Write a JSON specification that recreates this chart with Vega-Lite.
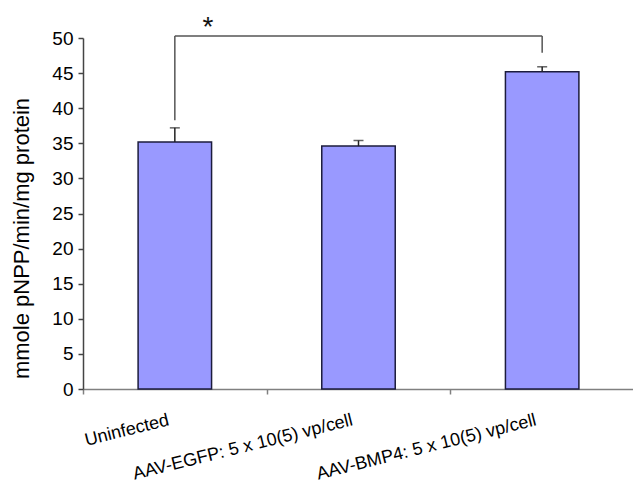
{
  "$schema": "https://vega.github.io/schema/vega-lite/v6.json",
  "autosize": {"type": "none"},
  "padding": {"left": 83, "top": 38, "right": 0, "bottom": 97},
  "width": 551,
  "height": 351,
  "background": "white",
  "config": {
    "view": {"stroke": null},
    "font": "Liberation Sans",
    "axis": {"labelFont": "Liberation Sans", "titleFont": "Liberation Sans", "labelColor": "#000", "titleColor": "#000", "grid": false},
    "axisY": {"tickCount": 20, "labelOverlap": false}
  },
  "datasets": {
    "bars": [
      {"group": "Uninfected", "value": 35.2, "upper": 37.2},
      {"group": "AAV-EGFP: 5 x 10(5) vp/cell", "value": 34.6, "upper": 35.4},
      {"group": "AAV-BMP4: 5 x 10(5) vp/cell", "value": 45.2, "upper": 45.9}
    ],
    "legs": [
      {"group": "Uninfected", "top": 50.3, "bottom": 38.3},
      {"group": "AAV-BMP4: 5 x 10(5) vp/cell", "top": 50.3, "bottom": 47.9}
    ],
    "span": [
      {"from": "Uninfected", "to": "AAV-BMP4: 5 x 10(5) vp/cell", "y": 50.3, "label": "*"}
    ]
  },
  "layer": [
    {
      "data": {"name": "bars"},
      "mark": {"type": "bar", "fill": "#9999ff", "stroke": "#1c1c3c", "strokeWidth": 1.5},
      "encoding": {
        "x": {
          "field": "group", "type": "nominal", "sort": null,
          "scale": {"paddingInner": 0.6, "paddingOuter": 0.3},
          "axis": {
            "title": null,
            "domainColor": "#808080", "domainWidth": 1.5,
            "tickColor": "#808080", "tickSize": 5, "tickWidth": 1.5,
            "tickOffset": -91.8,
            "labelOffset": 83,
            "labelAngle": -14, "labelAlign": "right", "labelBaseline": "top",
            "labelPadding": 17, "labelFontSize": 18, "labelLimit": 0,
            "labelOverlap": false, "labelBound": false
          }
        },
        "y": {
          "field": "value", "type": "quantitative",
          "scale": {"domain": [0, 50], "nice": false},
          "axis": {
            "values": [0, 5, 10, 15, 20, 25, 30, 35, 40, 45, 50],
            "tickCount": 20,
            "labelOverlap": false,
            "title": "mmole pNPP/min/mg protein",
            "titleFontSize": 22, "titleFontWeight": "normal",
            "titleX": -62, "titleY": 200, "titleAngle": -90,
            "titleAlign": "center", "titleBaseline": "middle",
            "domainColor": "#444", "domainWidth": 1.5,
            "tickColor": "#444", "tickSize": 5, "tickWidth": 1.5,
            "labelFontSize": 19, "labelPadding": 5
          }
        }
      }
    },
    {
      "data": {"name": "bars"},
      "mark": {"type": "rule", "color": "#222", "strokeWidth": 1.5},
      "encoding": {
        "x": {"field": "group", "type": "nominal", "sort": null},
        "y": {"field": "value", "type": "quantitative"},
        "y2": {"field": "upper"}
      }
    },
    {
      "data": {"name": "bars"},
      "mark": {"type": "tick", "color": "#222", "size": 10, "thickness": 1.5, "orient": "horizontal"},
      "encoding": {
        "x": {"field": "group", "type": "nominal", "sort": null},
        "y": {"field": "upper", "type": "quantitative"}
      }
    },
    {
      "data": {"name": "legs"},
      "mark": {"type": "rule", "color": "#555", "strokeWidth": 1.5},
      "encoding": {
        "x": {"field": "group", "type": "nominal", "sort": null},
        "y": {"field": "top", "type": "quantitative"},
        "y2": {"field": "bottom"}
      }
    },
    {
      "data": {"name": "span"},
      "mark": {"type": "rule", "color": "#555", "strokeWidth": 1.5},
      "encoding": {
        "x": {"field": "from", "type": "nominal", "sort": null},
        "x2": {"field": "to"},
        "y": {"field": "y", "type": "quantitative"}
      }
    },
    {
      "data": {"name": "span"},
      "mark": {"type": "text", "fontSize": 28, "dx": 33, "baseline": "alphabetic", "align": "center", "color": "#111"},
      "encoding": {
        "x": {"field": "from", "type": "nominal", "sort": null},
        "y": {"field": "y", "type": "quantitative"},
        "text": {"field": "label"}
      }
    }
  ]
}
